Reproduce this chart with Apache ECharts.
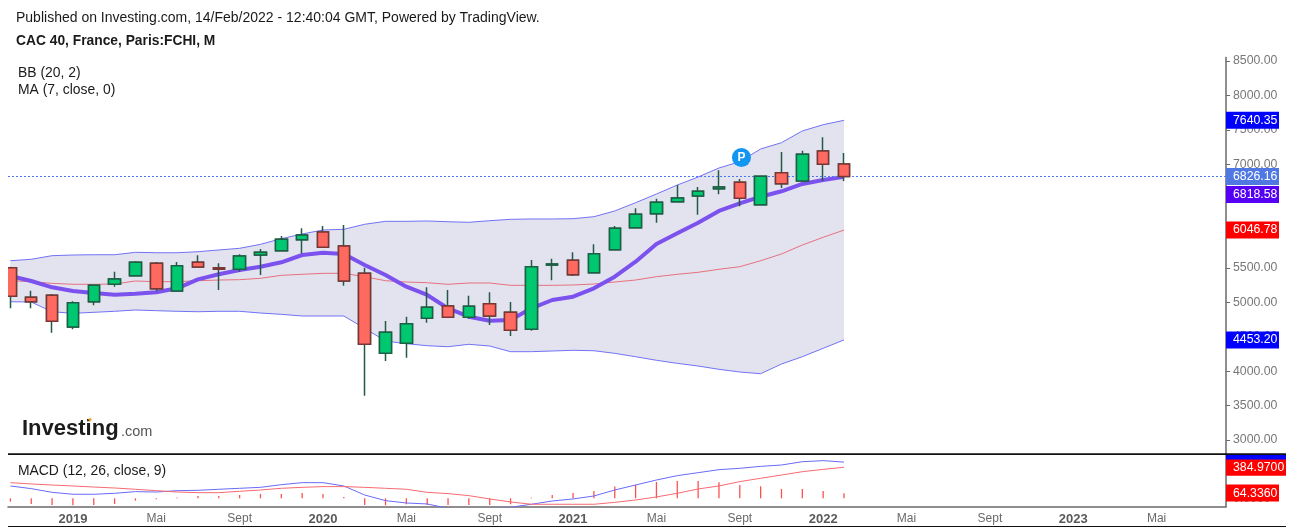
<!DOCTYPE html>
<html>
<head>
<meta charset="utf-8">
<style>html,body{margin:0;padding:0;background:#fff}#chart{width:1293px;height:532px}</style>
<script src="https://cdn.jsdelivr.net/npm/echarts@6/dist/echarts.min.js"></script>
</head>
<body>
<div id="chart"></div>
<script>
// monthly candles, Oct 2018 -> Feb 2022
const candleOpen = [5501,5071,5100,4640,5007,5260,5385,5565,5163,5579,5501,5478,5685,5748,5907,6019,5816,5419,4258,4404,4766,4945,4781,4978,4853,4607,5540,5608,5428,5762,6081,6285,6459,6541,6647,6740,6415,6880,6759,7195,7006];
const candleClose = [5086,5007,4723,4993,5245,5337,5579,5196,5530,5511,5478,5671,5724,5913,5975,5797,5308,4389,4563,4688,4926,4781,4941,4800,4592,5515,5554,5399,5704,6073,6276,6450,6512,6610,6672,6508,6827,6720,7147,7001,6826];
const candleLow = [4911,4911,4557,4607,4955,5225,5380,5158,5152,5501,5177,5443,5395,5748,5710,5797,5240,3643,4147,4195,4702,4781,4761,4669,4509,4586,5318,5380,5428,5762,6077,6154,6459,6270,6566,6392,6415,6658,6759,6759,6759];
const candleHigh = [5515,5167,5119,5013,5254,5443,5594,5583,5583,5681,5565,5695,5772,5961,6073,6106,6121,5501,4727,4790,5216,5177,5094,5144,5003,5613,5631,5724,5840,6106,6363,6502,6701,6672,6914,6788,6827,7180,7199,7393,7165];

const bbUpper = [5602,5623,5675,5685,5689,5689,5724,5718,5718,5733,5758,5782,5840,5922,5990,6048,6058,6131,6174,6174,6179,6168,6160,6183,6203,6208,6208,6212,6241,6324,6444,6570,6701,6817,6948,7039,7224,7315,7485,7576,7640];
const bbLower = [5007,5003,4862,4839,4853,4868,4887,4877,4868,4862,4868,4868,4843,4824,4800,4800,4800,4621,4437,4398,4369,4354,4389,4364,4282,4282,4292,4302,4296,4258,4209,4157,4113,4074,4026,3987,3962,4103,4209,4331,4453];
const bbMiddle = [5312,5298,5274,5260,5260,5264,5308,5298,5298,5312,5322,5327,5347,5390,5405,5419,5419,5370,5312,5293,5283,5260,5279,5279,5245,5245,5245,5250,5264,5293,5322,5370,5405,5434,5478,5515,5602,5700,5830,5942,6047];
const ma7 = [5380,5308,5216,5163,5134,5109,5123,5144,5202,5332,5405,5467,5515,5579,5685,5718,5700,5540,5395,5225,5105,4911,4790,4731,4742,4911,5032,5080,5202,5370,5588,5845,6000,6154,6324,6435,6531,6610,6716,6774,6819];

const macdLine = [153,120,74,50,50,62,83,78,95,99,112,124,136,169,194,194,153,41,-29,-58,-70,-124,-136,-124,-111,-74,-33,-8,29,103,165,227,281,318,355,372,396,413,454,467,449];
const macdSignal = [194,178,165,153,140,128,112,95,78,70,70,87,103,124,136,145,145,136,124,112,74,58,33,-8,-45,-74,-74,-74,-74,-50,-21,17,62,116,153,207,248,289,330,359,385];
const macdHist = [-41,-70,-83,-87,-83,-70,-29,-12,10,29,29,41,54,54,66,54,16,-83,-87,-74,-83,-83,-83,-83,-74,8,41,66,91,145,169,202,215,215,198,165,149,116,116,91,64];

// x axis ticks: position is the candle index
const xTickIndex = [3,7,11,15,19,23,27,31,35,39,43,47,51,55];
const xTickLabels = ["2019","Mai","Sept","2020","Mai","Sept","2021","Mai","Sept","2022","Mai","Sept","2023","Mai"];
const priceTicks = [3000,3500,4000,4500,5000,5500,6000,6500,7000,7500,8000,8500];

const FONT = "Arial, 'Liberation Sans', sans-serif";

function indexed(values) {
  return values.map((v, i) => [i, v]);
}

// price tag on the right axis, drawn as an invisible markLine with a boxed label
function tag(value, bg, text, opts) {
  opts = opts || {};
  return {
    yAxis: value,
    lineStyle: opts.line || { color: "rgba(0,0,0,0)", width: 0 },
    label: {
      show: true,
      position: "end",
      distance: 0,
      offset: [0, opts.dy || 0],
      formatter: text,
      color: "#fff",
      fontFamily: FONT,
      fontSize: 12.3,
      lineHeight: 13,
      backgroundColor: bg,
      width: opts.width || 46,
      padding: [2, 0, 2, 7],
    },
  };
}

function tagLine(items) {
  return { silent: true, symbol: "none", animation: false, precision: 4, data: items };
}

function thinLine(name, values, color, extra) {
  return Object.assign({
    name,
    type: "line",
    data: indexed(values),
    showSymbol: false,
    animation: false,
    silent: true,
    lineStyle: { width: 1, color },
  }, extra || {});
}

function text(x, y, str, font, fill) {
  return { type: "text", silent: true, z: 50, style: { x, y, text: str, font, fill, verticalAlign: "middle" } };
}

// bollinger fill: one polygon along the upper band and back along the lower band
function renderBand(params, api) {
  if (params.dataIndex !== 0) return null;
  const top = bbUpper.map((v, i) => api.coord([i, v]));
  const bottom = bbLower.map((v, i) => api.coord([i, v])).reverse();
  return {
    type: "polygon",
    shape: { points: top.concat(bottom) },
    style: { fill: "#e3e3f0" },
    silent: true,
  };
}

const chart = echarts.init(document.getElementById("chart"), null, { renderer: "canvas" });

chart.setOption({
  animation: false,
  backgroundColor: "#fff",
  textStyle: { fontFamily: FONT },
  grid: [
    { left: 8, right: 67, top: 57.6, height: 396.2 },
    { left: 8, right: 67, top: 455, height: 51.7 },
  ],
  xAxis: [
    { type: "value", gridIndex: 0, min: -0.115, max: 58.33, show: false, splitLine: { show: false } },
    {
      type: "value",
      gridIndex: 1,
      min: -0.115,
      max: 58.33,
      position: "bottom",
      splitLine: { show: false },
      axisTick: { show: false },
      axisLine: { onZero: false, lineStyle: { color: "#6a6a6a", width: 1.5 } },
      axisLabel: {
        customValues: xTickIndex,
        margin: 6,
        formatter: (v) => {
          const label = xTickLabels[xTickIndex.indexOf(v)];
          return /^\d+$/.test(label) ? `{year|${label}}` : `{month|${label}}`;
        },
        rich: {
          year: { fontFamily: FONT, fontSize: 13, fontWeight: "bold", color: "#5a5a5a" },
          month: { fontFamily: FONT, fontSize: 12, color: "#6a6a6a" },
        },
      },
    },
  ],
  yAxis: [
    {
      type: "value",
      gridIndex: 0,
      position: "right",
      min: 2800,
      max: 8550,
      splitLine: { show: false },
      axisLine: { show: true, onZero: false, lineStyle: { color: "#6a6a6a", width: 1.5 } },
      axisTick: { show: true, length: 4, customValues: priceTicks, lineStyle: { color: "#6a6a6a" } },
      axisLabel: {
        customValues: priceTicks,
        margin: 7,
        color: "#777",
        fontFamily: FONT,
        fontSize: 12.3,
        formatter: (v) => v.toFixed(2),
      },
    },
    {
      type: "value",
      gridIndex: 1,
      position: "right",
      min: -104,
      max: 537,
      splitLine: { show: false },
      axisLine: { show: true, onZero: false, lineStyle: { color: "#6a6a6a", width: 1.5 } },
      axisTick: { show: true, length: 4, customValues: [0], lineStyle: { color: "#6a6a6a" } },
      axisLabel: {
        customValues: [0],
        margin: 7,
        color: "#777",
        fontFamily: FONT,
        fontSize: 12.3,
        formatter: (v) => v.toFixed(4),
      },
    },
  ],
  series: [
    {
      name: "BB fill",
      type: "custom",
      z: 1,
      animation: false,
      silent: true,
      renderItem: renderBand,
      data: indexed(bbUpper),
    },
    thinLine("BB upper", bbUpper, "#7272f6", { z: 2, markLine: tagLine([tag(7640.35, "#0000ff", "7640.35")]) }),
    thinLine("BB lower", bbLower, "#7272f6", { z: 2, markLine: tagLine([tag(4453.2, "#0000ff", "4453.20")]) }),
    thinLine("BB middle", bbMiddle, "#e8707e", { z: 2, markLine: tagLine([tag(6046.78, "#ff0000", "6046.78")]) }),
    thinLine("MA", ma7, "#7b52ee", {
      z: 3,
      lineStyle: { width: 4, color: "#7b52ee" },
      markLine: tagLine([tag(6818.58, "#5500f5", "6818.58", { dy: 17.5 })]),
    }),
    // wicks are dark green on every candle, so they get their own layer under the bodies
    {
      name: "CAC 40 wicks",
      type: "candlestick",
      z: 4,
      animation: false,
      silent: true,
      barWidth: 12,
      data: candleOpen.map((o, i) => [i, o, candleClose[i], candleLow[i], candleHigh[i]]),
      itemStyle: { borderColor: "#235a45", borderColor0: "#235a45", borderWidth: 1.5 },
    },
    {
      name: "CAC 40",
      type: "candlestick",
      z: 5,
      animation: false,
      silent: true,
      barWidth: 12,
      data: candleOpen.map((o, i) => {
        const c = candleClose[i];
        return [i, o, c, Math.min(o, c), Math.max(o, c)];
      }),
      itemStyle: {
        color: "#00c870",
        color0: "#ff6a60",
        borderColor: "#1d5f45",
        borderColor0: "#7d3434",
        borderWidth: 1.5,
      },
      markLine: tagLine([
        tag(6826.16, "#4f78e2", "6826.16", {
          line: { color: "#4a78f0", type: [2, 2], width: 1 },
        }),
      ]),
      markPoint: {
        silent: true,
        animation: false,
        data: [{
          coord: [35.08, 7100],
          symbol: "circle",
          symbolSize: 19,
          itemStyle: { color: "#1296f2" },
          label: { show: true, formatter: "P", color: "#fff", fontWeight: "bold", fontSize: 12, fontFamily: FONT },
        }],
      },
    },
    {
      name: "Histogram",
      type: "bar",
      xAxisIndex: 1,
      yAxisIndex: 1,
      barWidth: 1.3,
      animation: false,
      silent: true,
      data: indexed(macdHist),
      itemStyle: { color: "#ff5050" },
    },
    thinLine("MACD", macdLine, "#6a6af8", {
      xAxisIndex: 1,
      yAxisIndex: 1,
    }),
    thinLine("Signal", macdSignal, "#f86a72", {
      xAxisIndex: 1,
      yAxisIndex: 1,
      markLine: tagLine([
        tag(384.97, "#ff0000", "384.9700", { width: 53 }),
        tag(64.336, "#ff0000", "64.3360"),
      ]),
    }),
  ],
  graphic: [
    // candlestick boxes are not clipped by the grid, so the first one is trimmed here
    { type: "rect", silent: true, z: 48, shape: { x: 0, y: 255, width: 8, height: 65 }, style: { fill: "#fff" } },
    text(16, 18, "Published on Investing.com, 14/Feb/2022 - 12:40:04 GMT, Powered by TradingView.", `14px ${FONT}`, "#1a1a1a"),
    text(16, 41, "CAC 40, France, Paris:FCHI, M", `bold 13.8px ${FONT}`, "#1a1a1a"),
    text(18, 73, "BB (20, 2)", `13.9px ${FONT}`, "#1a1a1a"),
    text(18, 90, "MA (7, close, 0)", `13.9px ${FONT}`, "#1a1a1a"),
    text(18, 471, "MACD (12, 26, close, 9)", `13.9px ${FONT}`, "#1a1a1a"),
    text(22, 429, "Investing", `bold 22px ${FONT}`, "#1c1c1c"),
    text(121, 432, ".com", `14.5px ${FONT}`, "#555"),
    { type: "circle", silent: true, z: 50, shape: { cx: 90, cy: 419.5, r: 1.6 }, style: { fill: "#f5a020" } },
    // pane rules and the MACD tag that is cut off by the rule
    { type: "rect", silent: true, z: 49, shape: { x: 1226, y: 455, width: 60, height: 4.5 }, style: { fill: "#0000ff" } },
    { type: "rect", silent: true, z: 50, shape: { x: 8, y: 453.2, width: 1278, height: 1.8 }, style: { fill: "#111" } },
    { type: "rect", silent: true, z: 50, shape: { x: 8, y: 526, width: 1278, height: 1 }, style: { fill: "#111" } },
  ],
});
</script>
</body>
</html>
